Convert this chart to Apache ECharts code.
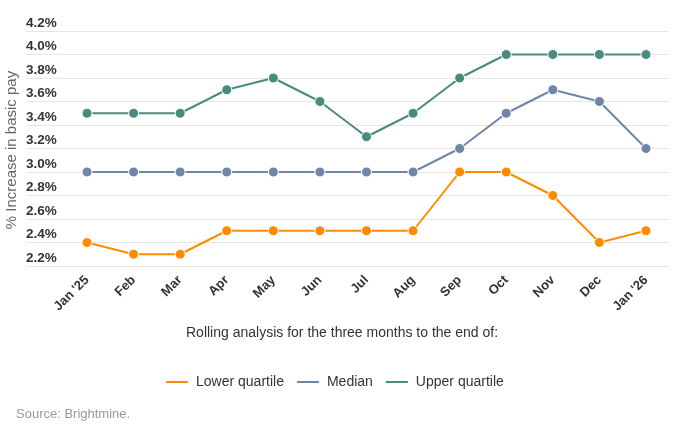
<!DOCTYPE html>
<html>
<head>
<meta charset="utf-8">
<script src="https://cdn.jsdelivr.net/npm/echarts@6/dist/echarts.min.js"></script>
<style>
html,body{margin:0;padding:0;background:#fff;}
#c{width:676px;height:432px;}
</style>
</head>
<body>
<div id="c"></div>
<script>
var categories = ["Jan '25","Feb","Mar","Apr","May","Jun","Jul","Aug","Sep","Oct","Nov","Dec","Jan '26"];
var lowerQuartile = [2.4,2.3,2.3,2.5,2.5,2.5,2.5,2.5,3.0,3.0,2.8,2.4,2.5];
var median = [3.0,3.0,3.0,3.0,3.0,3.0,3.0,3.0,3.2,3.5,3.7,3.6,3.2];
var upperQuartile = [3.5,3.5,3.5,3.7,3.8,3.6,3.3,3.5,3.8,4.0,4.0,4.0,4.0];
var yMin = 2.2, yMax = 4.2, yStep = 0.2;

var FONT = '"Liberation Sans", Arial, sans-serif';
var chart = echarts.init(document.getElementById('c'), null, {renderer:'canvas'});
function mk(name, data, color){
  return {
    name: name, type: 'line', xAxisIndex: 1, yAxisIndex: 1, data: data,
    symbol: 'circle', symbolSize: 10, showSymbol: true,
    lineStyle: {color: color, width: 2},
    itemStyle: {color: color, borderColor: '#fff', borderWidth: 1},
    emphasis: {disabled: true}, animation: false
  };
}
chart.setOption({
  animation: false,
  textStyle: {fontFamily: FONT},
  grid: [
    {left: 26, right: 7, top: 31, bottom: 166, containLabel: false, outerBoundsMode: 'none'},
    {left: 87, right: 30, top: 31, bottom: 166, containLabel: false, outerBoundsMode: 'none'}
  ],
  xAxis: [
    {gridIndex: 0, type: 'category', data: categories, show: false},
    {gridIndex: 1, type: 'category', data: categories, boundaryGap: false,
     axisLine: {show: false}, axisTick: {show: false},
     axisLabel: {rotate: 45, interval: 0, margin: 12, color: '#333', fontSize: 13, fontWeight: 'bold', fontFamily: FONT}}
  ],
  yAxis: [
    {gridIndex: 0, type: 'value', min: yMin, max: yMax, interval: yStep,
     axisLine: {show: false}, axisTick: {show: false},
     splitLine: {show: true, lineStyle: {color: '#e6e6e6', width: 1}},
     axisLabel: {inside: false, margin: 0.01, align: 'left', verticalAlign: 'bottom', padding: [0,0,1,0],
       color: '#333', fontSize: 13.5, fontWeight: 'bold', fontFamily: FONT,
       formatter: function(v){ return v.toFixed(1) + '%'; }}},
    {gridIndex: 1, type: 'value', min: yMin, max: yMax, interval: yStep, show: false,
     splitLine: {show: false}}
  ],
  legend: {
    left: 159, top: 370, icon: 'rect', itemWidth: 24, itemHeight: 4, itemGap: 11,
    textStyle: {color: '#333', fontSize: 14, fontFamily: FONT, padding: [0,0,0,2]},
    data: ['Lower quartile','Median','Upper quartile']
  },
  graphic: [
    {type: 'text', x: 12, y: 150, rotation: Math.PI / 2,
     style: {text: '% Increase in basic pay', fill: '#666', font: '15px ' + FONT, align: 'center', verticalAlign: 'middle'}},
    {type: 'text', left: 186, top: 326, style: {text: 'Rolling analysis for the three months to the end of:', fill: '#333', font: '14px ' + FONT}},
    {type: 'text', left: 16, top: 408, style: {text: 'Source: Brightmine.', fill: '#999', font: '13px ' + FONT}}
  ],
  series: [
    mk('Lower quartile', lowerQuartile, '#ff8c00'),
    mk('Median', median, '#7086a8'),
    mk('Upper quartile', upperQuartile, '#4a8b7f')
  ]
});
</script>
</body>
</html>
